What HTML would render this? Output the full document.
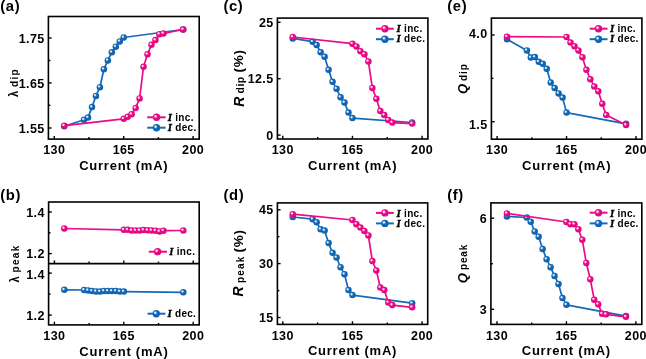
<!DOCTYPE html><html><head><meta charset="utf-8"><style>
html,body{margin:0;padding:0;background:#fff;width:646px;height:359px;overflow:hidden}svg{display:block;filter:blur(0.3px)}
svg text{font-family:"Liberation Sans", sans-serif;font-weight:bold;fill:#000}
.tk{font-size:12.5px;letter-spacing:0.4px}.ttl{font-size:13px;letter-spacing:0.75px}.lg{font-size:10px;letter-spacing:0.3px}.pl{font-size:14.8px;letter-spacing:0.6px}
.it{font-family:"Liberation Serif",serif;font-style:italic;font-weight:bold;font-size:10.8px;stroke:#000;stroke-width:0.35px}
.ax{stroke:#000;stroke-width:1.4}
</style></head><body>
<svg width="646" height="359" viewBox="0 0 646 359">
<defs>
<radialGradient id="gp" cx="0.40" cy="0.40" r="0.6" fx="0.36" fy="0.36"><stop offset="0" stop-color="#fff"/><stop offset="0.16" stop-color="#fdd6ec"/><stop offset="0.42" stop-color="#ec0a88"/><stop offset="1" stop-color="#e2047f"/></radialGradient>
<radialGradient id="gb" cx="0.40" cy="0.40" r="0.6" fx="0.36" fy="0.36"><stop offset="0" stop-color="#fff"/><stop offset="0.16" stop-color="#cfe2f4"/><stop offset="0.42" stop-color="#136ab8"/><stop offset="1" stop-color="#0e5fa8"/></radialGradient>
</defs>
<rect width="646" height="359" fill="#fff"/>
<text x="0.3" y="10.8" class="pl">(a)</text>
<text x="0.3" y="199.5" class="pl">(b)</text>
<text x="223.4" y="10.8" class="pl">(c)</text>
<text x="223.6" y="199.8" class="pl">(d)</text>
<text x="447.3" y="10.8" class="pl">(e)</text>
<text x="447.3" y="199.5" class="pl">(f)</text>
<rect x="48.40" y="16.50" width="150.80" height="122.60" fill="none" stroke="#000" stroke-width="1.6"/>
<line x1="54.30" y1="139.10" x2="54.30" y2="135.90" class="ax"/>
<line x1="89.00" y1="139.10" x2="89.00" y2="137.10" class="ax"/>
<line x1="123.70" y1="139.10" x2="123.70" y2="135.90" class="ax"/>
<line x1="158.41" y1="139.10" x2="158.41" y2="137.10" class="ax"/>
<line x1="193.11" y1="139.10" x2="193.11" y2="135.90" class="ax"/>
<line x1="48.40" y1="38.00" x2="51.60" y2="38.00" class="ax"/>
<text x="44.60" y="42.50" class="tk" text-anchor="end">1.75</text>
<line x1="48.40" y1="60.50" x2="50.40" y2="60.50" class="ax"/>
<line x1="48.40" y1="82.90" x2="51.60" y2="82.90" class="ax"/>
<text x="44.60" y="88.10" class="tk" text-anchor="end">1.65</text>
<line x1="48.40" y1="105.30" x2="50.40" y2="105.30" class="ax"/>
<line x1="48.40" y1="128.00" x2="51.60" y2="128.00" class="ax"/>
<text x="44.60" y="132.50" class="tk" text-anchor="end">1.55</text>
<text x="54.30" y="154.30" class="tk" text-anchor="middle">130</text>
<text x="123.70" y="154.30" class="tk" text-anchor="middle">165</text>
<text x="193.11" y="154.30" class="tk" text-anchor="middle">200</text>
<text x="123.80" y="170.10" class="ttl" text-anchor="middle">Current (mA)</text>
<polyline points="64.22,126.30 84.05,119.80 88.01,117.60 91.98,107.10 95.94,95.90 99.91,87.20 103.88,69.30 107.84,60.40 111.81,52.30 115.77,46.70 119.74,41.40 123.70,37.50 183.19,29.50" fill="none" stroke="#136ab8" stroke-width="1.7" stroke-linejoin="round"/>
<circle cx="64.22" cy="126.30" r="3.25" fill="url(#gb)"/>
<circle cx="84.05" cy="119.80" r="3.25" fill="url(#gb)"/>
<circle cx="88.01" cy="117.60" r="3.25" fill="url(#gb)"/>
<circle cx="91.98" cy="107.10" r="3.25" fill="url(#gb)"/>
<circle cx="95.94" cy="95.90" r="3.25" fill="url(#gb)"/>
<circle cx="99.91" cy="87.20" r="3.25" fill="url(#gb)"/>
<circle cx="103.88" cy="69.30" r="3.25" fill="url(#gb)"/>
<circle cx="107.84" cy="60.40" r="3.25" fill="url(#gb)"/>
<circle cx="111.81" cy="52.30" r="3.25" fill="url(#gb)"/>
<circle cx="115.77" cy="46.70" r="3.25" fill="url(#gb)"/>
<circle cx="119.74" cy="41.40" r="3.25" fill="url(#gb)"/>
<circle cx="123.70" cy="37.50" r="3.25" fill="url(#gb)"/>
<circle cx="183.19" cy="29.50" r="3.25" fill="url(#gb)"/>
<polyline points="64.22,125.70 123.70,118.80 127.67,116.80 131.64,114.30 135.60,108.10 139.57,98.40 143.53,66.80 147.50,54.30 151.47,44.80 155.43,40.10 159.40,34.20 163.37,33.40 183.19,29.50" fill="none" stroke="#ec0a88" stroke-width="1.7" stroke-linejoin="round"/>
<circle cx="64.22" cy="125.70" r="3.25" fill="url(#gp)"/>
<circle cx="123.70" cy="118.80" r="3.25" fill="url(#gp)"/>
<circle cx="127.67" cy="116.80" r="3.25" fill="url(#gp)"/>
<circle cx="131.64" cy="114.30" r="3.25" fill="url(#gp)"/>
<circle cx="135.60" cy="108.10" r="3.25" fill="url(#gp)"/>
<circle cx="139.57" cy="98.40" r="3.25" fill="url(#gp)"/>
<circle cx="143.53" cy="66.80" r="3.25" fill="url(#gp)"/>
<circle cx="147.50" cy="54.30" r="3.25" fill="url(#gp)"/>
<circle cx="151.47" cy="44.80" r="3.25" fill="url(#gp)"/>
<circle cx="155.43" cy="40.10" r="3.25" fill="url(#gp)"/>
<circle cx="159.40" cy="34.20" r="3.25" fill="url(#gp)"/>
<circle cx="163.37" cy="33.40" r="3.25" fill="url(#gp)"/>
<circle cx="183.19" cy="29.50" r="3.25" fill="url(#gp)"/>
<line x1="147.20" y1="117.30" x2="165.60" y2="117.30" stroke="#ec0a88" stroke-width="2.0"/>
<circle cx="156.50" cy="117.30" r="3.7" fill="url(#gp)"/>
<text x="167.70" y="120.80" class="lg"><tspan class="it">I</tspan> inc.</text>
<line x1="147.20" y1="127.70" x2="165.60" y2="127.70" stroke="#136ab8" stroke-width="2.0"/>
<circle cx="156.50" cy="127.70" r="3.7" fill="url(#gb)"/>
<text x="167.70" y="131.00" class="lg"><tspan class="it">I</tspan> dec.</text>
<rect x="277.40" y="18.10" width="150.50" height="120.90" fill="none" stroke="#000" stroke-width="1.6"/>
<line x1="282.80" y1="139.00" x2="282.80" y2="135.80" class="ax"/>
<line x1="317.62" y1="139.00" x2="317.62" y2="137.00" class="ax"/>
<line x1="352.45" y1="139.00" x2="352.45" y2="135.80" class="ax"/>
<line x1="387.27" y1="139.00" x2="387.27" y2="137.00" class="ax"/>
<line x1="422.10" y1="139.00" x2="422.10" y2="135.80" class="ax"/>
<line x1="277.40" y1="22.30" x2="280.60" y2="22.30" class="ax"/>
<text x="273.60" y="26.80" class="tk" text-anchor="end">25</text>
<line x1="277.40" y1="78.70" x2="280.60" y2="78.70" class="ax"/>
<text x="273.60" y="83.20" class="tk" text-anchor="end">12.5</text>
<line x1="277.40" y1="135.10" x2="280.60" y2="135.10" class="ax"/>
<text x="273.60" y="139.60" class="tk" text-anchor="end">0</text>
<text x="282.80" y="154.20" class="tk" text-anchor="middle">130</text>
<text x="352.45" y="154.20" class="tk" text-anchor="middle">165</text>
<text x="422.10" y="154.20" class="tk" text-anchor="middle">200</text>
<text x="352.65" y="170.00" class="ttl" text-anchor="middle">Current (mA)</text>
<polyline points="292.75,38.40 312.65,41.70 316.63,45.00 320.61,52.20 324.59,56.70 328.57,69.80 332.55,81.80 336.53,88.70 340.51,97.20 344.49,102.60 348.47,112.60 352.45,118.10 412.15,122.50" fill="none" stroke="#136ab8" stroke-width="1.7" stroke-linejoin="round"/>
<circle cx="292.75" cy="38.40" r="3.25" fill="url(#gb)"/>
<circle cx="312.65" cy="41.70" r="3.25" fill="url(#gb)"/>
<circle cx="316.63" cy="45.00" r="3.25" fill="url(#gb)"/>
<circle cx="320.61" cy="52.20" r="3.25" fill="url(#gb)"/>
<circle cx="324.59" cy="56.70" r="3.25" fill="url(#gb)"/>
<circle cx="328.57" cy="69.80" r="3.25" fill="url(#gb)"/>
<circle cx="332.55" cy="81.80" r="3.25" fill="url(#gb)"/>
<circle cx="336.53" cy="88.70" r="3.25" fill="url(#gb)"/>
<circle cx="340.51" cy="97.20" r="3.25" fill="url(#gb)"/>
<circle cx="344.49" cy="102.60" r="3.25" fill="url(#gb)"/>
<circle cx="348.47" cy="112.60" r="3.25" fill="url(#gb)"/>
<circle cx="352.45" cy="118.10" r="3.25" fill="url(#gb)"/>
<circle cx="412.15" cy="122.50" r="3.25" fill="url(#gb)"/>
<polyline points="292.75,37.00 352.45,43.70 356.43,46.40 360.41,51.20 364.39,54.20 368.37,61.40 372.35,87.90 376.33,98.80 380.31,111.10 384.29,115.10 388.27,119.90 392.25,122.60 412.15,123.60" fill="none" stroke="#ec0a88" stroke-width="1.7" stroke-linejoin="round"/>
<circle cx="292.75" cy="37.00" r="3.25" fill="url(#gp)"/>
<circle cx="352.45" cy="43.70" r="3.25" fill="url(#gp)"/>
<circle cx="356.43" cy="46.40" r="3.25" fill="url(#gp)"/>
<circle cx="360.41" cy="51.20" r="3.25" fill="url(#gp)"/>
<circle cx="364.39" cy="54.20" r="3.25" fill="url(#gp)"/>
<circle cx="368.37" cy="61.40" r="3.25" fill="url(#gp)"/>
<circle cx="372.35" cy="87.90" r="3.25" fill="url(#gp)"/>
<circle cx="376.33" cy="98.80" r="3.25" fill="url(#gp)"/>
<circle cx="380.31" cy="111.10" r="3.25" fill="url(#gp)"/>
<circle cx="384.29" cy="115.10" r="3.25" fill="url(#gp)"/>
<circle cx="388.27" cy="119.90" r="3.25" fill="url(#gp)"/>
<circle cx="392.25" cy="122.60" r="3.25" fill="url(#gp)"/>
<circle cx="412.15" cy="123.60" r="3.25" fill="url(#gp)"/>
<line x1="376.00" y1="28.70" x2="393.80" y2="28.70" stroke="#ec0a88" stroke-width="2.0"/>
<circle cx="384.90" cy="28.70" r="3.7" fill="url(#gp)"/>
<text x="396.50" y="31.90" class="lg"><tspan class="it">I</tspan> inc.</text>
<line x1="376.00" y1="39.20" x2="393.80" y2="39.20" stroke="#136ab8" stroke-width="2.0"/>
<circle cx="384.90" cy="39.20" r="3.7" fill="url(#gb)"/>
<text x="396.50" y="42.10" class="lg"><tspan class="it">I</tspan> dec.</text>
<rect x="277.40" y="202.90" width="150.30" height="121.50" fill="none" stroke="#000" stroke-width="1.6"/>
<line x1="282.80" y1="324.40" x2="282.80" y2="321.20" class="ax"/>
<line x1="317.62" y1="324.40" x2="317.62" y2="322.40" class="ax"/>
<line x1="352.45" y1="324.40" x2="352.45" y2="321.20" class="ax"/>
<line x1="387.27" y1="324.40" x2="387.27" y2="322.40" class="ax"/>
<line x1="422.10" y1="324.40" x2="422.10" y2="321.20" class="ax"/>
<line x1="277.40" y1="209.80" x2="280.60" y2="209.80" class="ax"/>
<text x="273.60" y="214.30" class="tk" text-anchor="end">45</text>
<line x1="277.40" y1="236.70" x2="279.40" y2="236.70" class="ax"/>
<line x1="277.40" y1="263.60" x2="280.60" y2="263.60" class="ax"/>
<text x="273.60" y="268.10" class="tk" text-anchor="end">30</text>
<line x1="277.40" y1="290.60" x2="279.40" y2="290.60" class="ax"/>
<line x1="277.40" y1="317.50" x2="280.60" y2="317.50" class="ax"/>
<text x="273.60" y="322.00" class="tk" text-anchor="end">15</text>
<text x="282.80" y="339.60" class="tk" text-anchor="middle">130</text>
<text x="352.45" y="339.60" class="tk" text-anchor="middle">165</text>
<text x="422.10" y="339.60" class="tk" text-anchor="middle">200</text>
<text x="352.55" y="355.40" class="ttl" text-anchor="middle">Current (mA)</text>
<polyline points="292.75,217.00 312.65,219.20 316.63,222.20 320.61,229.20 324.59,230.60 328.57,243.10 332.55,252.80 336.53,257.50 340.51,267.20 344.49,274.20 348.47,290.10 352.45,295.10 412.15,303.20" fill="none" stroke="#136ab8" stroke-width="1.7" stroke-linejoin="round"/>
<circle cx="292.75" cy="217.00" r="3.25" fill="url(#gb)"/>
<circle cx="312.65" cy="219.20" r="3.25" fill="url(#gb)"/>
<circle cx="316.63" cy="222.20" r="3.25" fill="url(#gb)"/>
<circle cx="320.61" cy="229.20" r="3.25" fill="url(#gb)"/>
<circle cx="324.59" cy="230.60" r="3.25" fill="url(#gb)"/>
<circle cx="328.57" cy="243.10" r="3.25" fill="url(#gb)"/>
<circle cx="332.55" cy="252.80" r="3.25" fill="url(#gb)"/>
<circle cx="336.53" cy="257.50" r="3.25" fill="url(#gb)"/>
<circle cx="340.51" cy="267.20" r="3.25" fill="url(#gb)"/>
<circle cx="344.49" cy="274.20" r="3.25" fill="url(#gb)"/>
<circle cx="348.47" cy="290.10" r="3.25" fill="url(#gb)"/>
<circle cx="352.45" cy="295.10" r="3.25" fill="url(#gb)"/>
<circle cx="412.15" cy="303.20" r="3.25" fill="url(#gb)"/>
<polyline points="292.75,214.20 352.45,220.00 356.43,224.20 360.41,227.60 364.39,230.90 368.37,235.40 372.35,261.10 376.33,270.40 380.31,287.50 384.29,290.10 388.27,302.50 392.25,305.10 412.15,307.30" fill="none" stroke="#ec0a88" stroke-width="1.7" stroke-linejoin="round"/>
<circle cx="292.75" cy="214.20" r="3.25" fill="url(#gp)"/>
<circle cx="352.45" cy="220.00" r="3.25" fill="url(#gp)"/>
<circle cx="356.43" cy="224.20" r="3.25" fill="url(#gp)"/>
<circle cx="360.41" cy="227.60" r="3.25" fill="url(#gp)"/>
<circle cx="364.39" cy="230.90" r="3.25" fill="url(#gp)"/>
<circle cx="368.37" cy="235.40" r="3.25" fill="url(#gp)"/>
<circle cx="372.35" cy="261.10" r="3.25" fill="url(#gp)"/>
<circle cx="376.33" cy="270.40" r="3.25" fill="url(#gp)"/>
<circle cx="380.31" cy="287.50" r="3.25" fill="url(#gp)"/>
<circle cx="384.29" cy="290.10" r="3.25" fill="url(#gp)"/>
<circle cx="388.27" cy="302.50" r="3.25" fill="url(#gp)"/>
<circle cx="392.25" cy="305.10" r="3.25" fill="url(#gp)"/>
<circle cx="412.15" cy="307.30" r="3.25" fill="url(#gp)"/>
<line x1="376.00" y1="212.90" x2="393.80" y2="212.90" stroke="#ec0a88" stroke-width="2.0"/>
<circle cx="384.90" cy="212.90" r="3.7" fill="url(#gp)"/>
<text x="396.50" y="216.50" class="lg"><tspan class="it">I</tspan> inc.</text>
<line x1="376.00" y1="223.40" x2="393.80" y2="223.40" stroke="#136ab8" stroke-width="2.0"/>
<circle cx="384.90" cy="223.40" r="3.7" fill="url(#gb)"/>
<text x="396.50" y="227.20" class="lg"><tspan class="it">I</tspan> dec.</text>
<rect x="491.40" y="18.10" width="150.50" height="121.10" fill="none" stroke="#000" stroke-width="1.6"/>
<line x1="497.10" y1="139.20" x2="497.10" y2="136.00" class="ax"/>
<line x1="531.82" y1="139.20" x2="531.82" y2="137.20" class="ax"/>
<line x1="566.54" y1="139.20" x2="566.54" y2="136.00" class="ax"/>
<line x1="601.26" y1="139.20" x2="601.26" y2="137.20" class="ax"/>
<line x1="635.98" y1="139.20" x2="635.98" y2="136.00" class="ax"/>
<line x1="491.40" y1="35.00" x2="494.60" y2="35.00" class="ax"/>
<text x="487.60" y="37.80" class="tk" text-anchor="end">4.0</text>
<line x1="491.40" y1="78.30" x2="493.40" y2="78.30" class="ax"/>
<line x1="491.40" y1="121.70" x2="494.60" y2="121.70" class="ax"/>
<text x="487.60" y="128.50" class="tk" text-anchor="end">1.5</text>
<text x="497.10" y="154.40" class="tk" text-anchor="middle">130</text>
<text x="566.54" y="154.40" class="tk" text-anchor="middle">165</text>
<text x="635.98" y="154.40" class="tk" text-anchor="middle">200</text>
<text x="566.65" y="170.20" class="ttl" text-anchor="middle">Current (mA)</text>
<polyline points="507.02,39.20 526.86,50.40 530.83,57.60 534.80,57.10 538.76,61.80 542.73,63.80 546.70,68.80 550.67,82.50 554.64,88.00 558.60,93.40 562.57,97.60 566.54,112.60 626.06,123.80" fill="none" stroke="#136ab8" stroke-width="1.7" stroke-linejoin="round"/>
<circle cx="507.02" cy="39.20" r="3.25" fill="url(#gb)"/>
<circle cx="526.86" cy="50.40" r="3.25" fill="url(#gb)"/>
<circle cx="530.83" cy="57.60" r="3.25" fill="url(#gb)"/>
<circle cx="534.80" cy="57.10" r="3.25" fill="url(#gb)"/>
<circle cx="538.76" cy="61.80" r="3.25" fill="url(#gb)"/>
<circle cx="542.73" cy="63.80" r="3.25" fill="url(#gb)"/>
<circle cx="546.70" cy="68.80" r="3.25" fill="url(#gb)"/>
<circle cx="550.67" cy="82.50" r="3.25" fill="url(#gb)"/>
<circle cx="554.64" cy="88.00" r="3.25" fill="url(#gb)"/>
<circle cx="558.60" cy="93.40" r="3.25" fill="url(#gb)"/>
<circle cx="562.57" cy="97.60" r="3.25" fill="url(#gb)"/>
<circle cx="566.54" cy="112.60" r="3.25" fill="url(#gb)"/>
<circle cx="626.06" cy="123.80" r="3.25" fill="url(#gb)"/>
<polyline points="507.02,36.70 566.54,37.00 570.51,42.50 574.48,46.20 578.44,50.40 582.41,57.20 586.38,69.80 590.35,79.20 594.32,86.40 598.28,91.20 602.25,103.70 606.22,115.10 626.06,125.10" fill="none" stroke="#ec0a88" stroke-width="1.7" stroke-linejoin="round"/>
<circle cx="507.02" cy="36.70" r="3.25" fill="url(#gp)"/>
<circle cx="566.54" cy="37.00" r="3.25" fill="url(#gp)"/>
<circle cx="570.51" cy="42.50" r="3.25" fill="url(#gp)"/>
<circle cx="574.48" cy="46.20" r="3.25" fill="url(#gp)"/>
<circle cx="578.44" cy="50.40" r="3.25" fill="url(#gp)"/>
<circle cx="582.41" cy="57.20" r="3.25" fill="url(#gp)"/>
<circle cx="586.38" cy="69.80" r="3.25" fill="url(#gp)"/>
<circle cx="590.35" cy="79.20" r="3.25" fill="url(#gp)"/>
<circle cx="594.32" cy="86.40" r="3.25" fill="url(#gp)"/>
<circle cx="598.28" cy="91.20" r="3.25" fill="url(#gp)"/>
<circle cx="602.25" cy="103.70" r="3.25" fill="url(#gp)"/>
<circle cx="606.22" cy="115.10" r="3.25" fill="url(#gp)"/>
<circle cx="626.06" cy="125.10" r="3.25" fill="url(#gp)"/>
<line x1="589.70" y1="28.70" x2="607.50" y2="28.70" stroke="#ec0a88" stroke-width="2.0"/>
<circle cx="598.50" cy="28.70" r="3.7" fill="url(#gp)"/>
<text x="609.90" y="32.10" class="lg"><tspan class="it">I</tspan> inc.</text>
<line x1="589.70" y1="39.20" x2="607.50" y2="39.20" stroke="#136ab8" stroke-width="2.0"/>
<circle cx="598.50" cy="39.20" r="3.7" fill="url(#gb)"/>
<text x="609.90" y="42.10" class="lg"><tspan class="it">I</tspan> dec.</text>
<rect x="490.90" y="202.90" width="150.90" height="121.50" fill="none" stroke="#000" stroke-width="1.6"/>
<line x1="497.00" y1="324.40" x2="497.00" y2="321.20" class="ax"/>
<line x1="531.72" y1="324.40" x2="531.72" y2="322.40" class="ax"/>
<line x1="566.44" y1="324.40" x2="566.44" y2="321.20" class="ax"/>
<line x1="601.16" y1="324.40" x2="601.16" y2="322.40" class="ax"/>
<line x1="635.88" y1="324.40" x2="635.88" y2="321.20" class="ax"/>
<line x1="490.90" y1="218.20" x2="494.10" y2="218.20" class="ax"/>
<text x="487.10" y="222.70" class="tk" text-anchor="end">6</text>
<line x1="490.90" y1="263.70" x2="492.90" y2="263.70" class="ax"/>
<line x1="490.90" y1="309.30" x2="494.10" y2="309.30" class="ax"/>
<text x="487.10" y="313.80" class="tk" text-anchor="end">3</text>
<text x="497.00" y="339.60" class="tk" text-anchor="middle">130</text>
<text x="566.44" y="339.60" class="tk" text-anchor="middle">165</text>
<text x="635.88" y="339.60" class="tk" text-anchor="middle">200</text>
<text x="566.35" y="355.40" class="ttl" text-anchor="middle">Current (mA)</text>
<polyline points="506.92,216.40 526.76,217.50 530.73,221.70 534.70,231.40 538.66,236.70 542.63,248.90 546.60,259.20 550.57,267.20 554.54,275.90 558.50,283.90 562.47,298.10 566.44,304.80 625.96,316.10" fill="none" stroke="#136ab8" stroke-width="1.7" stroke-linejoin="round"/>
<circle cx="506.92" cy="216.40" r="3.25" fill="url(#gb)"/>
<circle cx="526.76" cy="217.50" r="3.25" fill="url(#gb)"/>
<circle cx="530.73" cy="221.70" r="3.25" fill="url(#gb)"/>
<circle cx="534.70" cy="231.40" r="3.25" fill="url(#gb)"/>
<circle cx="538.66" cy="236.70" r="3.25" fill="url(#gb)"/>
<circle cx="542.63" cy="248.90" r="3.25" fill="url(#gb)"/>
<circle cx="546.60" cy="259.20" r="3.25" fill="url(#gb)"/>
<circle cx="550.57" cy="267.20" r="3.25" fill="url(#gb)"/>
<circle cx="554.54" cy="275.90" r="3.25" fill="url(#gb)"/>
<circle cx="558.50" cy="283.90" r="3.25" fill="url(#gb)"/>
<circle cx="562.47" cy="298.10" r="3.25" fill="url(#gb)"/>
<circle cx="566.44" cy="304.80" r="3.25" fill="url(#gb)"/>
<circle cx="625.96" cy="316.10" r="3.25" fill="url(#gb)"/>
<polyline points="506.92,213.40 566.44,222.00 570.41,224.20 574.38,224.20 578.34,229.20 582.31,239.70 586.28,262.90 590.25,279.20 594.22,299.70 598.18,304.30 602.15,313.80 606.12,314.30 625.96,316.80" fill="none" stroke="#ec0a88" stroke-width="1.7" stroke-linejoin="round"/>
<circle cx="506.92" cy="213.40" r="3.25" fill="url(#gp)"/>
<circle cx="566.44" cy="222.00" r="3.25" fill="url(#gp)"/>
<circle cx="570.41" cy="224.20" r="3.25" fill="url(#gp)"/>
<circle cx="574.38" cy="224.20" r="3.25" fill="url(#gp)"/>
<circle cx="578.34" cy="229.20" r="3.25" fill="url(#gp)"/>
<circle cx="582.31" cy="239.70" r="3.25" fill="url(#gp)"/>
<circle cx="586.28" cy="262.90" r="3.25" fill="url(#gp)"/>
<circle cx="590.25" cy="279.20" r="3.25" fill="url(#gp)"/>
<circle cx="594.22" cy="299.70" r="3.25" fill="url(#gp)"/>
<circle cx="598.18" cy="304.30" r="3.25" fill="url(#gp)"/>
<circle cx="602.15" cy="313.80" r="3.25" fill="url(#gp)"/>
<circle cx="606.12" cy="314.30" r="3.25" fill="url(#gp)"/>
<circle cx="625.96" cy="316.80" r="3.25" fill="url(#gp)"/>
<line x1="589.70" y1="212.70" x2="607.50" y2="212.70" stroke="#ec0a88" stroke-width="2.0"/>
<circle cx="598.50" cy="212.70" r="3.7" fill="url(#gp)"/>
<text x="609.90" y="216.50" class="lg"><tspan class="it">I</tspan> inc.</text>
<line x1="589.70" y1="223.40" x2="607.50" y2="223.40" stroke="#136ab8" stroke-width="2.0"/>
<circle cx="598.50" cy="223.40" r="3.7" fill="url(#gb)"/>
<text x="609.90" y="227.20" class="lg"><tspan class="it">I</tspan> dec.</text>
<rect x="48.6" y="202.0" width="150.60" height="122.90" fill="none" stroke="#000" stroke-width="1.6"/>
<line x1="48.6" y1="263.6" x2="199.2" y2="263.6" stroke="#000" stroke-width="1.6"/>
<line x1="54.40" y1="263.60" x2="54.40" y2="260.40" class="ax"/>
<line x1="54.40" y1="324.90" x2="54.40" y2="321.70" class="ax"/>
<line x1="89.10" y1="263.60" x2="89.10" y2="261.60" class="ax"/>
<line x1="89.10" y1="324.90" x2="89.10" y2="322.90" class="ax"/>
<line x1="123.81" y1="263.60" x2="123.81" y2="260.40" class="ax"/>
<line x1="123.81" y1="324.90" x2="123.81" y2="321.70" class="ax"/>
<line x1="158.51" y1="263.60" x2="158.51" y2="261.60" class="ax"/>
<line x1="158.51" y1="324.90" x2="158.51" y2="322.90" class="ax"/>
<line x1="193.21" y1="263.60" x2="193.21" y2="260.40" class="ax"/>
<line x1="193.21" y1="324.90" x2="193.21" y2="321.70" class="ax"/>
<line x1="48.6" y1="212.0" x2="51.800000000000004" y2="212.0" class="ax"/>
<text x="44.80" y="216.70" class="tk" text-anchor="end">1.4</text>
<line x1="48.6" y1="232.8" x2="50.6" y2="232.8" class="ax"/>
<line x1="48.6" y1="253.6" x2="51.800000000000004" y2="253.6" class="ax"/>
<text x="44.80" y="258.40" class="tk" text-anchor="end">1.2</text>
<line x1="48.6" y1="273.1" x2="51.800000000000004" y2="273.1" class="ax"/>
<text x="44.80" y="279.30" class="tk" text-anchor="end">1.4</text>
<line x1="48.6" y1="294.1" x2="50.6" y2="294.1" class="ax"/>
<line x1="48.6" y1="315.1" x2="51.800000000000004" y2="315.1" class="ax"/>
<text x="44.80" y="319.50" class="tk" text-anchor="end">1.2</text>
<text x="54.40" y="340.10" class="tk" text-anchor="middle">130</text>
<text x="123.81" y="340.10" class="tk" text-anchor="middle">165</text>
<text x="193.21" y="340.10" class="tk" text-anchor="middle">200</text>
<text x="123.90" y="355.50" class="ttl" text-anchor="middle">Current (mA)</text>
<polyline points="64.31,228.50 123.81,229.80 127.77,229.80 131.74,230.50 135.70,230.50 139.67,230.50 143.63,230.00 147.60,230.30 151.57,230.50 155.53,230.70 159.50,231.50 163.47,230.70 183.30,230.50" fill="none" stroke="#ec0a88" stroke-width="1.7" stroke-linejoin="round"/>
<circle cx="64.31" cy="228.50" r="3.25" fill="url(#gp)"/>
<circle cx="123.81" cy="229.80" r="3.25" fill="url(#gp)"/>
<circle cx="127.77" cy="229.80" r="3.25" fill="url(#gp)"/>
<circle cx="131.74" cy="230.50" r="3.25" fill="url(#gp)"/>
<circle cx="135.70" cy="230.50" r="3.25" fill="url(#gp)"/>
<circle cx="139.67" cy="230.50" r="3.25" fill="url(#gp)"/>
<circle cx="143.63" cy="230.00" r="3.25" fill="url(#gp)"/>
<circle cx="147.60" cy="230.30" r="3.25" fill="url(#gp)"/>
<circle cx="151.57" cy="230.50" r="3.25" fill="url(#gp)"/>
<circle cx="155.53" cy="230.70" r="3.25" fill="url(#gp)"/>
<circle cx="159.50" cy="231.50" r="3.25" fill="url(#gp)"/>
<circle cx="163.47" cy="230.70" r="3.25" fill="url(#gp)"/>
<circle cx="183.30" cy="230.50" r="3.25" fill="url(#gp)"/>
<polyline points="64.31,289.80 84.14,290.00 88.11,290.40 92.08,291.00 96.04,291.40 100.01,291.60 103.97,291.00 107.94,291.00 111.91,291.00 115.87,291.00 119.84,291.60 123.81,291.60 183.30,292.30" fill="none" stroke="#136ab8" stroke-width="1.7" stroke-linejoin="round"/>
<circle cx="64.31" cy="289.80" r="3.25" fill="url(#gb)"/>
<circle cx="84.14" cy="290.00" r="3.25" fill="url(#gb)"/>
<circle cx="88.11" cy="290.40" r="3.25" fill="url(#gb)"/>
<circle cx="92.08" cy="291.00" r="3.25" fill="url(#gb)"/>
<circle cx="96.04" cy="291.40" r="3.25" fill="url(#gb)"/>
<circle cx="100.01" cy="291.60" r="3.25" fill="url(#gb)"/>
<circle cx="103.97" cy="291.00" r="3.25" fill="url(#gb)"/>
<circle cx="107.94" cy="291.00" r="3.25" fill="url(#gb)"/>
<circle cx="111.91" cy="291.00" r="3.25" fill="url(#gb)"/>
<circle cx="115.87" cy="291.00" r="3.25" fill="url(#gb)"/>
<circle cx="119.84" cy="291.60" r="3.25" fill="url(#gb)"/>
<circle cx="123.81" cy="291.60" r="3.25" fill="url(#gb)"/>
<circle cx="183.30" cy="292.30" r="3.25" fill="url(#gb)"/>
<line x1="148.80" y1="251.70" x2="167.00" y2="251.70" stroke="#ec0a88" stroke-width="2.0"/>
<circle cx="157.60" cy="251.70" r="3.7" fill="url(#gp)"/>
<text x="169.20" y="254.90" class="lg"><tspan class="it">I</tspan> inc.</text>
<line x1="147.60" y1="313.70" x2="165.40" y2="313.70" stroke="#136ab8" stroke-width="2.0"/>
<circle cx="156.20" cy="313.70" r="3.7" fill="url(#gb)"/>
<text x="167.40" y="316.90" class="lg"><tspan class="it">I</tspan> dec.</text>
<text transform="translate(17.90,96.90) rotate(-90) scale(0.85,1)" style="font-size:13px">λ</text>
<text transform="translate(17.90,86.90) rotate(-90)" style="font-size:10px;letter-spacing:1.2px">dip</text>
<text transform="translate(18.80,282.60) rotate(-90) scale(0.85,1)" style="font-size:13px">λ</text>
<text transform="translate(18.80,272.60) rotate(-90)" style="font-size:10px;letter-spacing:1.4px">peak</text>
<text transform="translate(243.60,106.80) rotate(-90)" style="font-size:14px;font-style:italic">R</text>
<text transform="translate(243.60,93.40) rotate(-90)" style="font-size:10.4px;letter-spacing:0.5px">dip</text>
<text transform="translate(243.00,72.60) rotate(-90)" style="font-size:13.5px;letter-spacing:0.8px">(%)</text>
<text transform="translate(243.40,296.60) rotate(-90)" style="font-size:14px;font-style:italic">R</text>
<text transform="translate(243.60,283.00) rotate(-90)" style="font-size:10px;letter-spacing:1.2px">peak</text>
<text transform="translate(243.00,252.60) rotate(-90)" style="font-size:13.5px;letter-spacing:0.8px">(%)</text>
<text transform="translate(466.50,94.00) rotate(-90)" style="font-size:13px;font-style:italic">Q</text>
<text transform="translate(467.00,80.90) rotate(-90)" style="font-size:10px;letter-spacing:0.9px">dip</text>
<text transform="translate(466.50,283.30) rotate(-90)" style="font-size:13px;font-style:italic">Q</text>
<text transform="translate(467.00,270.00) rotate(-90)" style="font-size:10px;letter-spacing:0.8px">peak</text>
</svg></body></html>
